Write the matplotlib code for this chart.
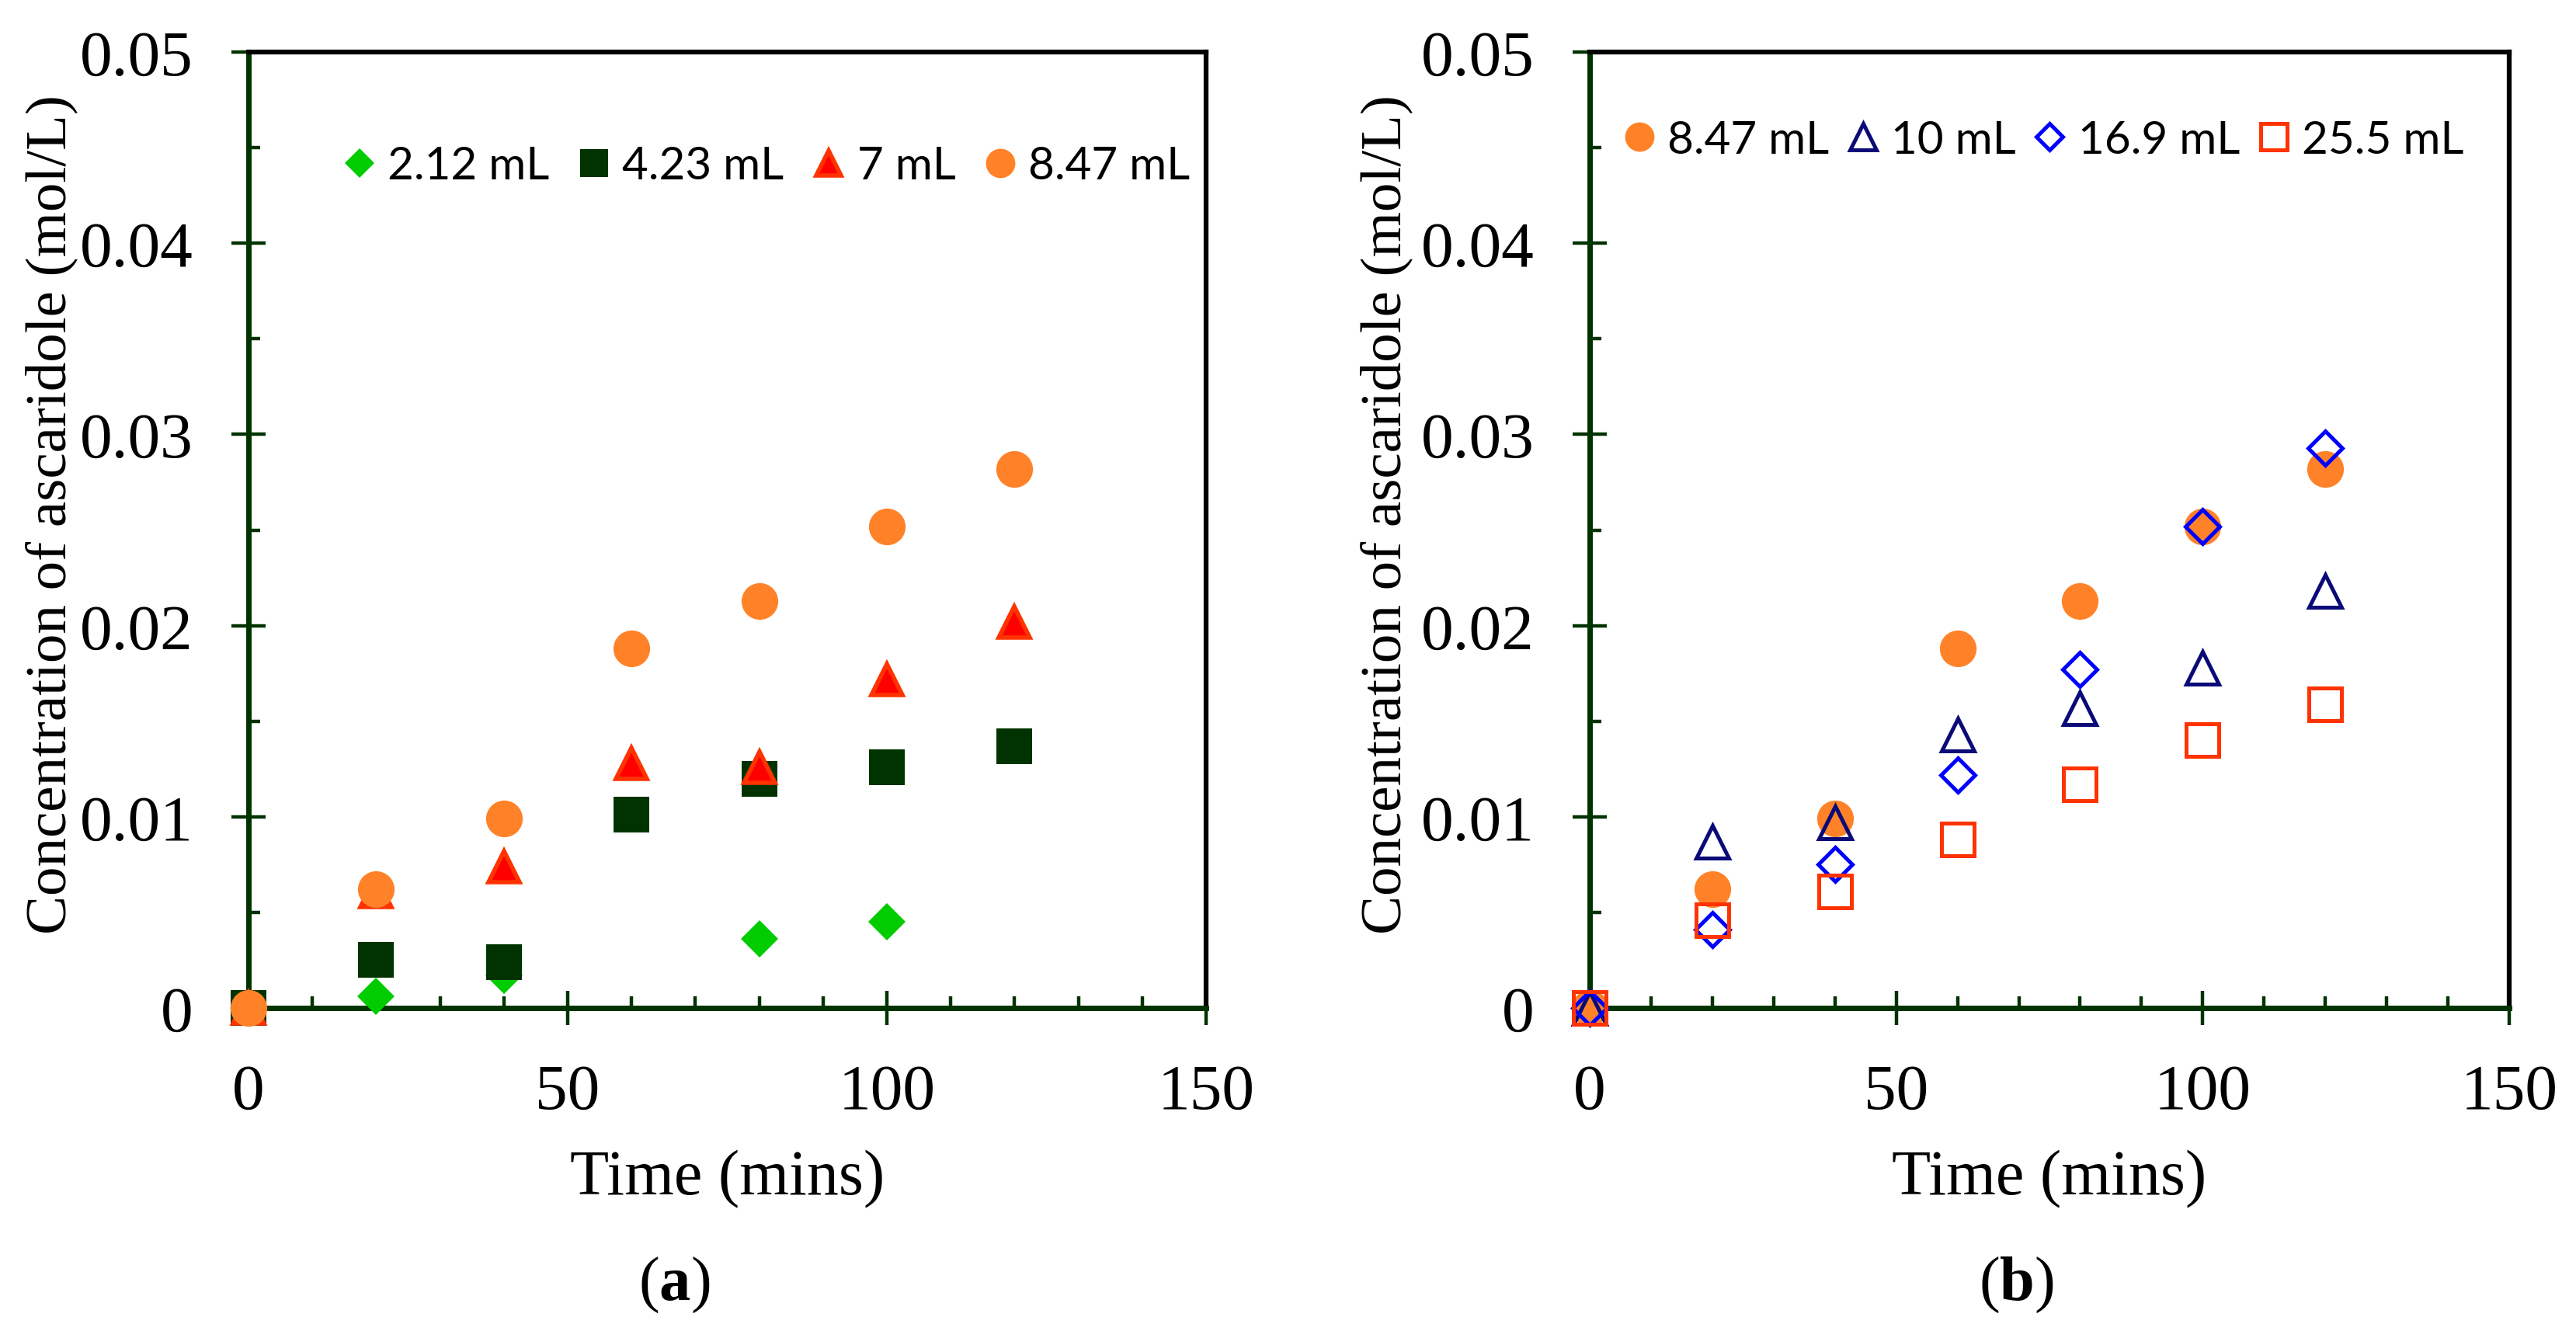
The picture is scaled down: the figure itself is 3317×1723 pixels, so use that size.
import matplotlib
matplotlib.use("Agg")
import matplotlib.pyplot as plt
from matplotlib.ticker import MultipleLocator

plt.rcParams["font.family"] = ["Liberation Serif", "DejaVu Serif"]
plt.rcParams["mathtext.fontset"] = "custom"
plt.rcParams["mathtext.bf"] = "Liberation Serif:bold"
plt.rcParams["mathtext.rm"] = "Liberation Serif"

# Time points (mins)
time = [0, 20, 40, 60, 80, 100, 120]
time_212 = [0, 20, 40, 80, 100]

# (a) concentration of ascaridole (mol/L)
conc_212 = [0, 0.0006, 0.0017, 0.0036, 0.0045]
conc_423 = [0, 0.0025, 0.0024, 0.0101, 0.0120, 0.0126, 0.0137]
conc_7 = [0, 0.0061, 0.0074, 0.0128, 0.0126, 0.0172, 0.0202]
conc_847 = [0, 0.0062, 0.0099, 0.0188, 0.0213, 0.0252, 0.0282]

# (b)
conc_10 = [0, 0.0087, 0.0097, 0.0143, 0.0157, 0.0178, 0.0218]
conc_169 = [0, 0.0041, 0.0075, 0.0122, 0.0177, 0.0252, 0.0293]
conc_255 = [0, 0.0046, 0.0061, 0.0088, 0.0117, 0.0140, 0.0159]

DKGREEN = "#003300"
ORANGE = "#FF8228"

fig = plt.figure(figsize=(33.17, 17.24), dpi=100)
ax1 = fig.add_axes([0.0965, 0.2465, 0.3717, 0.714])
ax2 = fig.add_axes([0.6171, 0.2465, 0.357, 0.714])


def style_axes(ax, ylab_x):
    ax.set_xlim(0, 150)
    ax.set_ylim(0, 0.05)
    ax.xaxis.set_major_locator(MultipleLocator(50))
    ax.xaxis.set_minor_locator(MultipleLocator(10))
    ax.yaxis.set_major_locator(MultipleLocator(0.01))
    ax.yaxis.set_minor_locator(MultipleLocator(0.005))
    ax.set_yticks([0, 0.01, 0.02, 0.03, 0.04, 0.05])
    ax.set_yticklabels(["0", "0.01", "0.02", "0.03", "0.04", "0.05"])
    ax.tick_params(which="major", direction="inout", length=31, width=3.2,
                   color=DKGREEN, labelsize=60, pad=36)
    ax.tick_params(which="minor", direction="in", length=11, width=3.2,
                   color=DKGREEN)
    for s in ["left", "bottom"]:
        ax.spines[s].set_color(DKGREEN)
        ax.spines[s].set_linewidth(5)
    for s in ["top", "right"]:
        ax.spines[s].set_color("black")
        ax.spines[s].set_linewidth(4.5)
    ax.set_xlabel("Time (mins)", fontsize=59)
    ax.xaxis.set_label_coords(0.5, -0.148)
    ax.set_ylabel("Concentration of ascaridole (mol/L)", fontsize=54)
    ax.yaxis.set_label_coords(ylab_x, 0.517)


style_axes(ax1, -0.178)
style_axes(ax2, -0.192)

kw = dict(linestyle="none", clip_on=False, zorder=3)

# ---- (a) ----
ax1.plot(time_212, conc_212, marker="D", ms=24, color="#00CC00", mew=0,
         label="2.12 mL", **kw)
ax1.plot(time, conc_423, marker="s", ms=33, color=DKGREEN, mew=0,
         label="4.23 mL", **kw)
ax1.plot(time, conc_7, marker="^", ms=29, mfc="#FF0000", mec="#FF3300",
         mew=4, label="7 mL", **kw)
ax1.plot(time, conc_847, marker="o", ms=34, color=ORANGE, mew=0,
         label="8.47 mL", **kw)

# ---- (b) ----
ax2.plot(time, conc_847, marker="o", ms=34, color=ORANGE, mew=0,
         label="8.47 mL", **kw)
ax2.plot(time, conc_10, marker="^", ms=30, mfc="none", mec="#0A0A78",
         mew=3.6, label="10 mL", **kw)
ax2.plot(time, conc_169, marker="D", ms=22, mfc="none", mec="#0000FF",
         mew=3.6, label="16.9 mL", **kw)
ax2.plot(time, conc_255, marker="s", ms=30, mfc="none", mec="#FF3300",
         mew=3.6, label="25.5 mL", **kw)

leg_kw = dict(ncol=4, frameon=False, borderpad=0, borderaxespad=0,
              handlelength=0.85, handletextpad=0.2,
              markerscale=0.8, prop={"family": "Lato", "size": 42})
ax1.legend(loc="center left", bbox_to_anchor=(0.0957, 0.881),
           columnspacing=0.56, **leg_kw)
ax2.legend(loc="center left", bbox_to_anchor=(0.033, 0.908),
           columnspacing=0.32, **leg_kw)

fig.text(868 / 3317, 1 - 1655 / 1724, r"($\mathbf{a}$)", fontsize=58,
         ha="center", va="center")
fig.text(2596 / 3317, 1 - 1655 / 1724, r"($\mathbf{b}$)", fontsize=58,
         ha="center", va="center")

fig.savefig("out.png", dpi=100, facecolor="white")
